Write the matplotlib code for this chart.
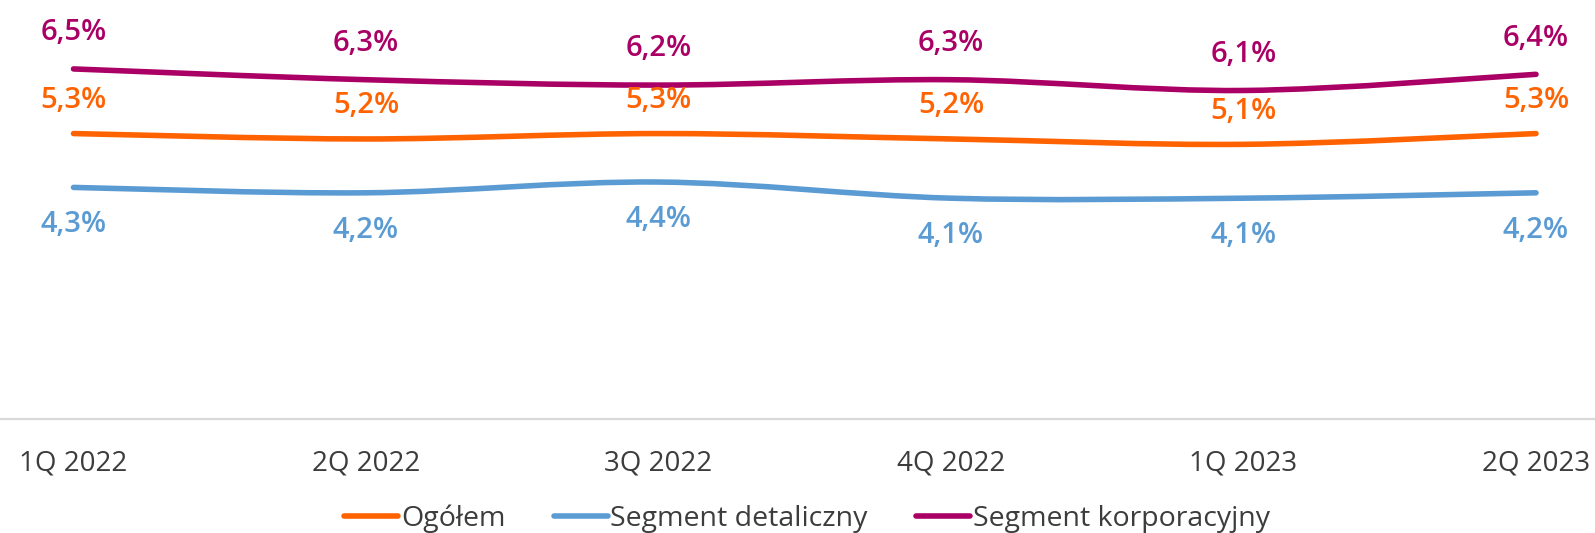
import numpy as np
import matplotlib.pyplot as plt
from matplotlib.path import Path
from matplotlib.patches import PathPatch
from matplotlib.lines import Line2D

quarters = ['1Q 2022', '2Q 2022', '3Q 2022', '4Q 2022', '1Q 2023', '2Q 2023']
ogolem = [5.3, 5.2, 5.3, 5.2, 5.1, 5.3]
detaliczny = [4.3, 4.2, 4.4, 4.1, 4.1, 4.2]
korporacyjny = [6.5, 6.3, 6.2, 6.3, 6.1, 6.4]

names = ['Ogółem', 'Segment detaliczny', 'Segment korporacyjny']
colors = ['#FF6200', '#5A9BD3', '#AA0066']
offsets = [24, -27, 26]  # label offset in points (above / below the line)


def smooth_path(x, y):
    # bezier through the points, like the smoothed lines in Excel
    pts = np.column_stack([x, y]).astype(float)
    n = len(pts)
    verts = [pts[0]]
    codes = [Path.MOVETO]
    for i in range(n - 1):
        p0 = pts[i - 1] if i > 0 else pts[i]
        p1 = pts[i]
        p2 = pts[i + 1]
        p3 = pts[i + 2] if i + 2 < n else pts[i + 1]
        c1 = p1 + (p2 - p0) / 6.0
        c2 = p2 - (p3 - p1) / 6.0
        verts += [c1, c2, p2]
        codes += [Path.CURVE4] * 3
    return Path(verts, codes)


fig = plt.figure(figsize=(15.95, 5.33), dpi=100)
ax = fig.add_axes([0, 1 - 419 / 533, 1, 419 / 533])

x = np.arange(len(quarters))
for vals, col, off in zip([ogolem, detaliczny, korporacyjny], colors, offsets):
    patch = PathPatch(smooth_path(x, vals), facecolor='none', edgecolor=col,
                      lw=4, capstyle='round', joinstyle='round')
    ax.add_patch(patch)
    for xi, v in zip(x, vals):
        ax.annotate(('%.1f%%' % v).replace('.', ','), (xi, v),
                    xytext=(0, off), textcoords='offset points',
                    ha='center', va='center', color=col, fontsize=21,
                    fontweight='semibold', family='Open Sans')

ax.set_xlim(-73.5 / 292.5, 5 + 59 / 292.5)
ax.set_ylim(0, 7.78)
ax.set_xticks(x)
ax.set_xticklabels(quarters, fontsize=20, color='#3C3C3C', family='Open Sans')
ax.tick_params(axis='x', length=0, pad=22)
ax.set_yticks([])
for s in ['top', 'right', 'left']:
    ax.spines[s].set_visible(False)
ax.spines['bottom'].set_color('#D9D9D9')
ax.spines['bottom'].set_linewidth(1.6)

handles = [Line2D([], [], color=c, lw=4, solid_capstyle='round') for c in colors]
leg = fig.legend(handles, names, loc='center', bbox_to_anchor=(807 / 1595, 1 - 519 / 533),
                 ncol=3, frameon=False, handlelength=1.9, handletextpad=0.1,
                 columnspacing=1.7, prop={'family': 'Open Sans', 'size': 20.5})
for t in leg.get_texts():
    t.set_color('#3C3C3C')

fig.savefig('out.png', dpi=100)
